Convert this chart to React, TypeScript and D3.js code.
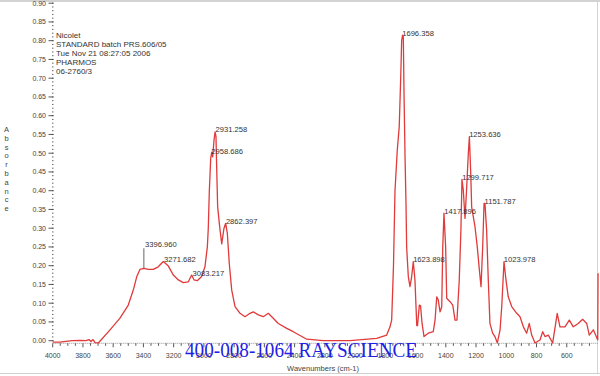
import React from "react";
import * as d3 from "d3";

const wavenumbers = [4000,3952,3912,3872,3819,3780,3760,3747,3733,3720,3698,3621,3555,3500,3467,3444,3423,3396,3368,3335,
3302,3268,3235,3202,3169,3136,3103,3081,3065,3044,3015,2993,2977,2971,2964,2955,2948,2942,2933,2926,
2920,2915,2909,2898,2893,2882,2867,2856,2845,2832,2816,2794,2761,2728,2695,2673,2640,2607,2574,2551,
2508,2452,2409,2364,2320,2210,2034,1857,1791,1769,1758,1746,1736,1721,1708,1698,1692,1686,1681,1676,
1670,1663,1659,1648,1637,1626,1615,1604,1592,1587,1575,1567,1557,1544,1516,1483,1471,1460,1450,1438,
1427,1420,1412,1401,1394,1372,1354,1339,1326,1311,1300,1293,1284,1273,1263,1251,1244,1235,1229,1207,
1192,1178,1167,1156,1147,1141,1130,1119,1108,1090,1075,1059,1041,1030,1015,1002,987,964,931,909,
887,865,848,832,810,777,759,744,722,693,663,645,612,583,557,524,495,468,451,424,
395,393];

const absorbance = [-0.004,-0.004,-0.002,0.0,0.001,0.0,0.003,-0.002,0.003,-0.005,-0.006,0.029,0.060,0.095,0.135,0.171,0.190,0.193,0.190,0.190,
0.197,0.211,0.199,0.175,0.162,0.155,0.157,0.175,0.162,0.160,0.171,0.197,0.251,0.30,0.40,0.486,0.503,0.49,0.535,0.557,
0.544,0.455,0.357,0.313,0.295,0.258,0.30,0.313,0.286,0.206,0.135,0.091,0.073,0.064,0.073,0.077,0.069,0.064,0.073,0.064,
0.046,0.033,0.024,0.014,0.004,0.0,0.0,0.006,0.015,0.037,0.055,0.20,0.40,0.508,0.571,0.704,0.80,0.815,0.81,0.65,
0.50,0.36,0.25,0.171,0.144,0.17,0.211,0.162,0.04,0.04,0.095,0.093,0.046,0.011,0.02,0.024,0.055,0.117,0.109,0.077,
0.09,0.251,0.34,0.25,0.113,0.104,0.095,0.055,0.055,0.162,0.295,0.43,0.40,0.326,0.40,0.50,0.544,0.446,0.357,0.304,
0.251,0.189,0.144,0.25,0.366,0.366,0.295,0.162,0.046,0.02,0.011,-0.006,0.029,0.091,0.211,0.162,0.117,0.091,0.073,0.064,
0.037,0.02,0.046,0.015,-0.006,0.002,0.024,0.011,0.015,-0.006,0.073,0.037,0.037,0.055,0.037,0.046,0.057,0.046,0.015,0.029,
0.002,0.18];

const peakLabels = ["3396.960","3271.682","3083.217","2958.686","2931.258","2862.397","1696.358","1623.898","1417.896","1299.717","1253.636","1151.787","1023.978"];
const peakHeights = [0.193,0.211,0.175,0.50,0.557,0.313,0.815,0.211,0.34,0.43,0.544,0.366,0.211];

const headerLines = ["Nicolet","STANDARD batch PRS.606/05","Tue Nov 21 08:27:05 2006","PHARMOS","06-2760/3"];

const xTickLabels = [4000,3800,3600,3400,3200,3000,2800,2600,2400,2200,2000,1800,1600,1400,1200,1000,800,600];
const yTickLabels = [0,0.05,0.1,0.15,0.2,0.25,0.3,0.35,0.4,0.45,0.5,0.55,0.6,0.65,0.7,0.75,0.8,0.85,0.9];

const yLabel = "Absorbance";
const xLabel = "Wavenumbers (cm-1)";
const watermark = "400-008-1064 RAYSCIENCE";

export default function App() {
  const W = 600, H = 376;
  const x = d3.scaleLinear().domain([4000, 392]).range([52.7, 598.2]);
  const y = d3.scaleLinear().domain([0, 0.9]).range([340.7, 3.2]);
  const axisY = 343.3;
  const pts = wavenumbers.map((w, i) => [w, absorbance[i]] as [number, number]);
  const line = d3.line<[number, number]>().x(d => x(d[0])).y(d => y(d[1]));
  const font = "'Liberation Sans', Arial, sans-serif";

  const minorY = d3.range(0, 91).map(i => i / 100);
  const minorX = d3.range(450, 4001, 50);

  return (
    <div style={{ position: "absolute", left: 0, top: 0 }}>
      <svg width={W} height={H} style={{ display: "block", background: "#fff" }}>
        {/* frame */}
        <line x1={0} x2={W} y1={1} y2={1} stroke="#c4c4c4" strokeWidth={1.5} />
        <line x1={597.5} x2={597.5} y1={0} y2={373} stroke="#d4d4d4" strokeWidth={1} />
        <line x1={0} x2={W} y1={373.5} y2={373.5} stroke="#d0d0d0" strokeWidth={1} />

        {/* y axis */}
        {minorY.map(v => (
          <line key={"ym" + v} x1={52} x2={53.5} y1={y(v)} y2={y(v)} stroke="#555" strokeWidth={0.9} />
        ))}
        {yTickLabels.map(v => (
          <g key={"yt" + v}>
            <line x1={48.5} x2={53.5} y1={y(v)} y2={y(v)} stroke="#444" strokeWidth={0.9} />
            <text x={46} y={y(v) + 2.5} textAnchor="end" fontSize={7} fontFamily={font} fill="#444">
              {v.toFixed(2)}
            </text>
          </g>
        ))}

        {/* x axis */}
        <line x1={52.7} x2={598} y1={axisY} y2={axisY} stroke="#777" strokeWidth={0.8} strokeDasharray="1,1" />
        {minorX.map(v => (
          <line key={"xm" + v} x1={x(v)} x2={x(v)} y1={axisY} y2={axisY + (v % 200 === 0 ? 4 : 2.5)} stroke="#444" strokeWidth={0.9} />
        ))}
        {xTickLabels.map(v => (
          <text key={"xt" + v} x={x(v)} y={358} textAnchor="middle" fontSize={7} fontFamily={font} fill="#444">
            {v}
          </text>
        ))}

        {/* axis titles */}
        {yLabel.split("").map((c, i) => (
          <text key={"yl" + i} x={6.5} y={132 + i * 8.8} textAnchor="middle" fontSize={7.5} fontFamily={font} fill="#444">
            {c}
          </text>
        ))}
        <text x={323} y={371} textAnchor="middle" fontSize={7.5} fontFamily={font} fill="#444">{xLabel}</text>

        {/* header */}
        {headerLines.map((t, i) => (
          <text key={"h" + i} x={56} y={38 + i * 9} fontSize={8} fontFamily={font} fill="#333">{t}</text>
        ))}

        {/* spectrum */}
        <path d={line(pts) || ""} fill="none" stroke="#e03a3a" strokeWidth={1.3} strokeLinejoin="round" />

        {/* peak labels */}
        {peakLabels.map((t, i) => {
          const wx = x(parseFloat(t));
          const py = y(peakHeights[i]);
          const raised = i === 0;
          const ty = raised ? py - 21 : py + 0.5;
          return (
            <g key={"p" + i}>
              {raised && <line x1={wx} x2={wx} y1={ty + 1} y2={py} stroke="#555" strokeWidth={0.9} />}
              <text x={wx + 1.2} y={ty} fontSize={7.6} fontFamily={font} fill="#333">{t}</text>
            </g>
          );
        })}

        {/* watermark */}
        <text x={185} y={356.5} fontSize={20} fontFamily="'Liberation Serif', 'Times New Roman', serif" fill="#1f1fe6"
          textLength={232} lengthAdjust="spacingAndGlyphs">{watermark}</text>
      </svg>
    </div>
  );
}
